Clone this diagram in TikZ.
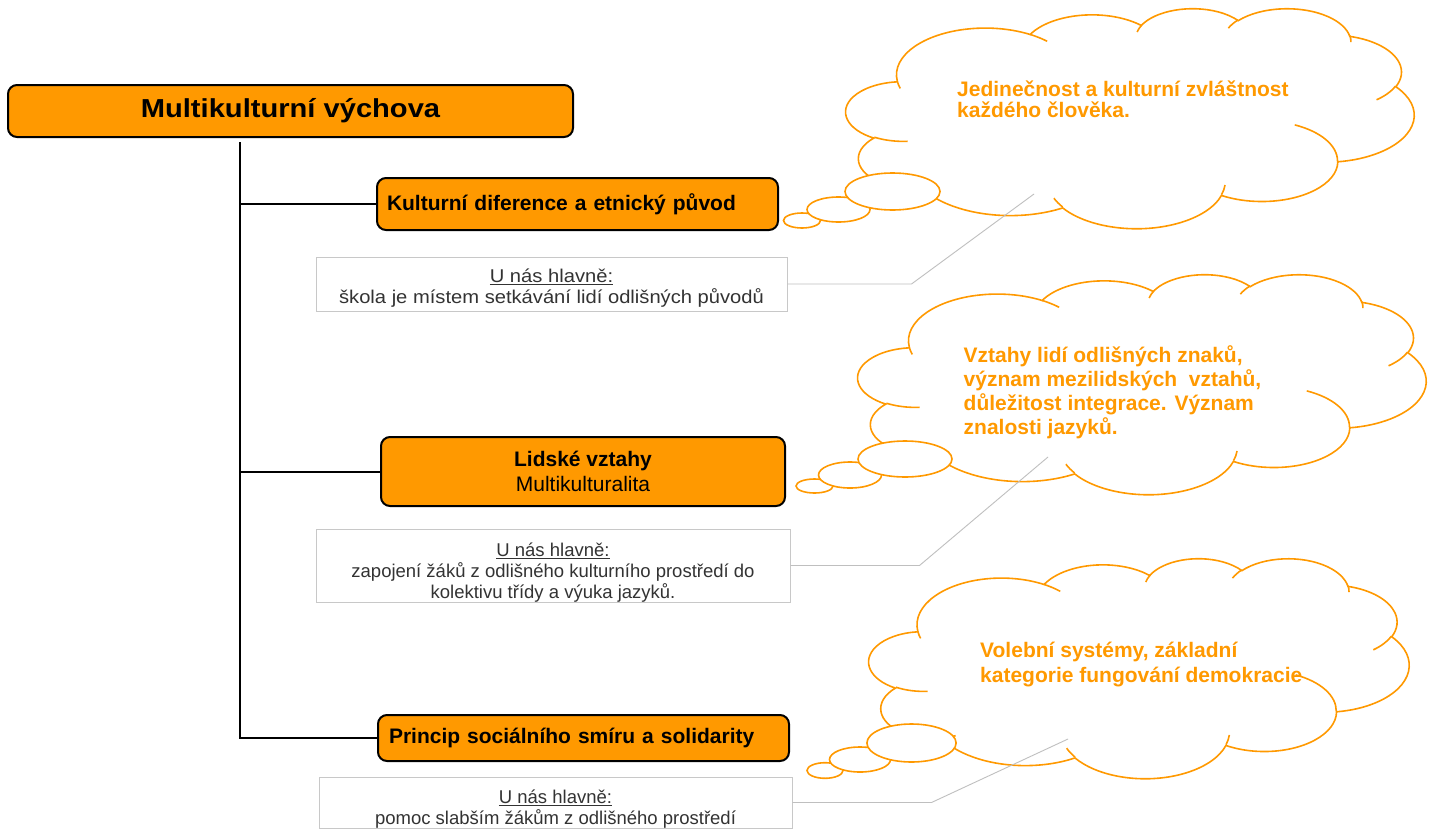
\documentclass[tikz,border=0pt]{standalone}
\usepackage{xcolor}
\definecolor{ff9900}{HTML}{ff9900}
\definecolor{c8c8c8}{HTML}{c8c8c8}
\definecolor{bfbfbf}{HTML}{bfbfbf}
\usepackage{tikz}
\usepackage{fontspec}
\setmainfont{Liberation Sans}
\newfontfamily\titlefont[FakeStretch=1.12]{Liberation Sans}
\newfontfamily\widefont[FakeStretch=1.09]{Liberation Sans}

\tikzset{
    topicbox/.style={draw=black, line width=2pt, fill=ff9900, rounded corners=9pt, inner sep=0pt},
    notebox/.style={draw=c8c8c8, line width=1pt, fill=white, align=center, text=black!80, inner sep=0pt, text depth=0pt},
    noteline/.style={draw=bfbfbf, line width=0.9pt},
    branch/.style={line width=2pt},
    cloudline/.style={draw=ff9900, line width=1.6pt},
    cloudtext/.style={text=ff9900, align=left, inner sep=0pt, anchor=base west, font=\bfseries\fontsize{21}{24}\selectfont}
}

% cloud outline in a 4320 x 4320 box, top left at (#1,#2)
\newcommand{\thoughtcloud}[4]{%
    \begin{scope}[shift={(#1,#2)}, x=#3pt, y=-#4pt]
        \draw[cloudline, fill=white] (390,1437)
            \foreach \w/\h/\s/\d in {675.3/919/-190.4875/123.7805, 533.3/726.7/-144.1024/89.9452,
                436.5/594.5/-145.8079/99.7230, 485.7/659.5/-130.9861/117.2417, 533.3/727.3/-78.7089/109.0269,
                677.5/922/-46.2673/130.2690, 578.5/786.7/0.6250/114.0333, 675.2/921.5/22.4516/115.1726,
                772/1054.3/66.2426/75.7110, 436/591.8/-274.9421/146.7356, 434.5/594.5/-246.8285/152.5189}
            {arc[x radius=\w, y radius=\h, start angle={atan2(\w*sin(\s),\h*cos(\s))},
                delta angle={mod(atan2(\w*sin(\s+\d),\h*cos(\s+\d))-atan2(\w*sin(\s),\h*cos(\s))+720,360)}]}
            -- cycle;
        \foreach \mx/\my/\w/\h/\s/\d in {469.3/2617.7/434.5/594.5/86.742/26.4295, 692.8/3489.9/436/591.8/73.6105/11.4475,
            1647.8/3909/675.2/921.5/137.6242/14.0811, 2882.7/3475.1/675.2/921.5/6.4533/15.9984,
            3412.9/2295.4/578.5/786.7/-70.2924/70.9174, 4179.8/1535.4/533.3/727.3/30.318/27.7515,
            3832.4/542.6/485.7/659.5/-13.7443/14.8589, 2907.8/395.2/485.7/659.5/-149.1815/18.1954,
            2214.1/472/436.5/594.5/-163.4943/17.6864, 1400/519.2/675.3/919/-66.707/12.3194,
            412.7/1578.9/675.3/919/157.6544/11.8582}
            \draw[cloudline] (\mx,\my) arc[x radius=\w, y radius=\h, start angle={atan2(\w*sin(\s),\h*cos(\s))},
                delta angle={mod(atan2(\w*sin(\s+\d),\h*cos(\s+\d))-atan2(\w*sin(\s),\h*cos(\s))+720,360)}];
    \end{scope}}

\begin{document}
\begin{tikzpicture}[x=1pt, y=-1pt]
            \useasboundingbox (0,0) rectangle (1437,830);
            \fill[white] (0,0) rectangle (1437,830);

            % clouds
            \thoughtcloud{846}{8}{0.131481}{0.050926}
            \thoughtcloud{858}{274}{0.131481}{0.050926}
            \thoughtcloud{869}{558}{0.125}{0.050926}

            \draw[cloudline, fill=white] (802,220.5) ellipse[x radius=18.5, y radius=7.5];
            \draw[cloudline, fill=white] (838.5,209.5) ellipse[x radius=31.5, y radius=12.5];
            \draw[cloudline, fill=white] (892.5,191.5) ellipse[x radius=47.5, y radius=18.5];
            \draw[cloudline, fill=white] (814.5,486) ellipse[x radius=18.5, y radius=7];
            \draw[cloudline, fill=white] (850,475) ellipse[x radius=31.5, y radius=13];
            \draw[cloudline, fill=white] (905,459) ellipse[x radius=47, y radius=18];
            \draw[cloudline, fill=white] (825,770.5) ellipse[x radius=18, y radius=7.8];
            \draw[cloudline, fill=white] (860,759.5) ellipse[x radius=30.5, y radius=12.5];
            \draw[cloudline, fill=white] (911.5,743) ellipse[x radius=44.6, y radius=19];

            % base west = baseline of the last line
            \node[cloudtext, font=\bfseries\fontsize{21}{21.5}\selectfont] (t1) at (957,117.5) {Jedinečnost a kulturní zvláštnost\\každého člověka.};
            \node[cloudtext] (t2) at (963.5,434) {Vztahy lidí odlišných znaků,\\význam mezilidských~ vztahů,\\důležitost integrace. Význam\\znalosti jazyků.};
            \node[cloudtext, font=\bfseries\fontsize{21}{24.5}\selectfont] (t3) at (980,682) {Volební systémy, základní\\kategorie fungování demokracie};

            % tree
            \node[topicbox, minimum width=565, minimum height=52, font=\titlefont\bfseries\fontsize{26}{30}\selectfont] (mv) at (290.5,111) {Multikulturní výchova};
            \node[topicbox, minimum width=401, minimum height=52, text width=381, align=left, font=\bfseries\fontsize{21}{24}\selectfont] (kult) at (577.5,204) {Kulturní diference a etnický původ};
            \node[topicbox, minimum width=404, minimum height=69, align=center, font=\fontsize{21}{25}\selectfont] (lid) at (583,471.5) {\textbf{Lidské vztahy}\\Multikulturalita};
            \node[topicbox, minimum width=411, minimum height=46, text width=389, align=left, font=\bfseries\fontsize{21}{24}\selectfont] (prin) at (583.5,738) {Princip sociálního smíru a solidarity};

            \coordinate (trunk) at (240,142);
            \draw[branch] (trunk) |- (prin.west);
            \draw[branch] (trunk |- kult.west) -- (kult.west);
            \draw[branch] (trunk |- lid.west) -- (lid.west);

            % notes, text height = 2 x (last baseline - centre)
            \node[notebox, minimum width=471, minimum height=54, text height=38, font=\widefont\fontsize{18.5}{20.5}\selectfont] (note1) at (551.5,284) {\underline{U nás hlavně:}\\škola je místem setkávání lidí odlišných původů};
            \node[notebox, minimum width=474, minimum height=73, text height=65.6, font=\fontsize{18.5}{21}\selectfont] (note2) at (553,565.5) {\underline{U nás hlavně:}\\zapojení žáků z odlišného kulturního prostředí do\\kolektivu třídy a výuka jazyků.};
            \node[notebox, minimum width=473, minimum height=51, text height=43, font=\fontsize{18.5}{20.5}\selectfont] (note3) at (555.5,802.5) {\underline{U nás hlavně:}\\pomoc slabším žákům z odlišného prostředí};

            \coordinate (c1) at (1034,194);
            \coordinate (c2) at (1048,457);
            \coordinate (c3) at (1068,739);
            \draw[noteline] (note1.east) -- ++(124,0) -- (c1);
            \draw[noteline] (note2.east) -- ++(129,0) -- (c2);
            \draw[noteline] (note3.east) -- ++(139,0) -- (c3);
\end{tikzpicture}
\end{document}
